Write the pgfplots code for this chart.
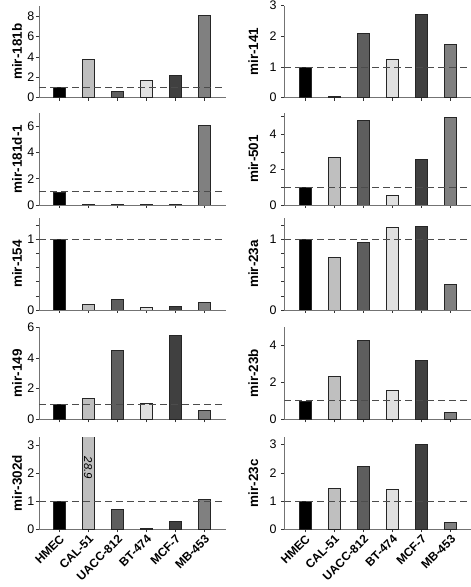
\documentclass[border=0pt]{standalone}
\usepackage{fontspec}
\setmainfont{Liberation Sans}
\usepackage{pgfplots}
\usepackage{pgfplotstable}
\pgfplotsset{compat=1.18}
\definecolor{c0}{HTML}{000000}
\definecolor{c1}{HTML}{BFBFBF}
\definecolor{c2}{HTML}{5E5E5E}
\definecolor{c3}{HTML}{E0E0E0}
\definecolor{c4}{HTML}{404040}
\definecolor{c5}{HTML}{808080}

\pgfplotstableread{
x y
0 1
1 3.72
2 0.65
3 1.69
4 2.2
5 8.03
}\tA
\pgfplotstableread{
x y
0 1
1 0.08
2 0.02
3 0.05
4 0.05
5 6.08
}\tB
\pgfplotstableread{
x y
0 1
1 0.08
2 0.15
3 0.042
4 0.05
5 0.11
}\tC
\pgfplotstableread{
x y
0 1
1 1.37
2 4.52
3 1.07
4 5.5
5 0.61
}\tD
\pgfplotstableread{
x y
0 1
1 28.9
2 0.73
3 0.05
4 0.3
5 1.08
}\tE
\pgfplotstableread{
x y
0 1
1 0.03
2 2.11
3 1.25
4 2.72
5 1.73
}\tF
\pgfplotstableread{
x y
0 1
1 2.7
2 4.79
3 0.57
4 2.6
5 4.94
}\tG
\pgfplotstableread{
x y
0 1
1 0.74
2 0.95
3 1.17
4 1.18
5 0.36
}\tH
\pgfplotstableread{
x y
0 1
1 2.33
2 4.32
3 1.56
4 3.23
5 0.38
}\tI
\pgfplotstableread{
x y
0 1
1 1.46
2 2.23
3 1.43
4 3.0
5 0.26
}\tJ

\newcommand{\bars}[1]{%
  \pgfplotsinvokeforeach{0,...,5}{%
    \addplot[ybar, bar width=12bp, bar shift=0pt, fill=c##1, draw=black!85, line width=0.6pt,
      restrict expr to domain={\coordindex}{##1:##1}] table[x=x,y=y]{#1};
  }%
  \draw[dash pattern=on 7bp off 4bp, color=black!70, line width=0.8pt]
    ({rel axis cs:0,0}|-{axis cs:0,1}) -- ({rel axis cs:1,0}|-{axis cs:0,1});
}

\pgfplotsset{
  panel/.style={
    scale only axis, height=92bp,
    axis x line=bottom, axis y line=left,
    axis line style={-, draw=black!55, line width=0.8pt},
    ymin=0,
    xtick={0,...,5}, xticklabels={},
    tick align=outside, major tick length=3bp,
    tick style={draw=black!80, line width=0.6pt},
    yticklabel style={font=\fontsize{12.5}{13}\selectfont, inner sep=1.5bp},
    clip=true,
    anchor=south west,
  },
  leftpanel/.style={panel, width=187bp, xmin=-0.69, xmax=5.75,
    every axis y label/.style={at={(rel axis cs:0,0.5)}, xshift=-22bp, rotate=90, anchor=center,
      font=\bfseries\fontsize{13.5}{14}\selectfont}},
  rightpanel/.style={panel, width=186.7bp, xmin=-0.71, xmax=5.71,
    every axis y label/.style={at={(rel axis cs:0,0.5)}, xshift=-31bp, rotate=90, anchor=center,
      font=\bfseries\fontsize{13.5}{14}\selectfont},
    yticklabel style={xshift=-3bp}},
  bottomrow/.style={xticklabels={HMEC,CAL-51,UACC-812,BT-474,MCF-7,MB-453},
    xticklabel style={rotate=45, anchor=north east, inner sep=1bp,
      font=\bfseries\fontsize{12}{13}\selectfont}},
}

\begin{document}
\begin{tikzpicture}
\useasboundingbox (0,0) rectangle (471bp,587bp);

% ---------- left column ----------
\begin{axis}[leftpanel, at={(39bp,489.3bp)}, ymax=9, ytick={0,2,4,6,8}, yticklabels={0,2,4,6,8}, ylabel={mir-181b}]
\bars{\tA}
\end{axis}
\begin{axis}[leftpanel, at={(39bp,382bp)}, ymax=7, ytick={0,2,4,6}, yticklabels={0,2,4,6}, ylabel={mir-181d-1}]
\bars{\tB}
\end{axis}
\begin{axis}[leftpanel, at={(39bp,277bp)}, ymax=1.3, ytick={0,0.2,0.4,0.6,0.8,1,1.2}, yticklabels={0,,,,,1,}, ylabel={mir-154}]
\bars{\tC}
\end{axis}
\begin{axis}[leftpanel, at={(39bp,167.7bp)}, ymax=6, ytick={0,2,4,6}, yticklabels={0,2,4,6}, ylabel={mir-149}]
\bars{\tD}
\end{axis}
\begin{axis}[leftpanel, bottomrow, at={(39bp,57.7bp)}, ymax=3.3, ytick={0,1,2,3}, yticklabels={0,1,2,3}, ylabel={mir-302d}]
\bars{\tE}
\node[rotate=-90, font=\itshape\fontsize{11.5}{12}\selectfont] at (axis cs:1,2.2) {28.9};
\end{axis}

% ---------- right column ----------
\begin{axis}[rightpanel, at={(284.3bp,489.3bp)}, ymax=3, ytick={0,1,2,3}, yticklabels={0,1,2,3}, ylabel={mir-141}]
\bars{\tF}
\end{axis}
\begin{axis}[rightpanel, at={(284.3bp,382bp)}, ymax=5.2, ytick={0,1,2,3,4,5}, yticklabels={0,,2,,4,}, ylabel={mir-501}]
\bars{\tG}
\end{axis}
\begin{axis}[rightpanel, at={(284.3bp,277bp)}, ymax=1.3, ytick={0,0.2,0.4,0.6,0.8,1,1.2}, yticklabels={0,,,,,1,}, ylabel={mir-23a}]
\bars{\tH}
\end{axis}
\begin{axis}[rightpanel, at={(284.3bp,167.7bp)}, ymax=5, ytick={0,2,4}, yticklabels={0,2,4}, ylabel={mir-23b}]
\bars{\tI}
\end{axis}
\begin{axis}[rightpanel, bottomrow, at={(284.3bp,57.7bp)}, ymax=3.26, ytick={0,1,2,3}, yticklabels={0,1,2,3}, ylabel={mir-23c}]
\bars{\tJ}
\end{axis}
\end{tikzpicture}
\end{document}
